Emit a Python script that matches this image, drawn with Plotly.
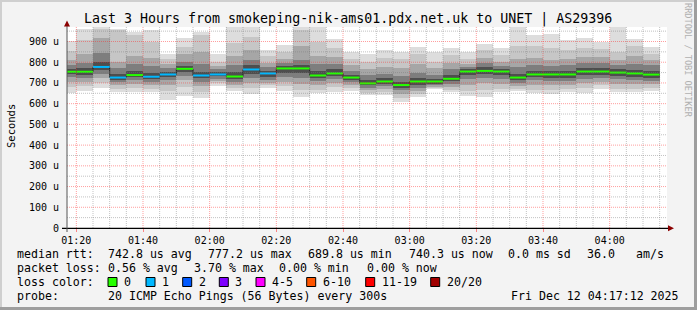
import plotly.graph_objects as go
import pandas as pd

DAY = "2025-12-12 "
RANGE_START = "01:17:12"
RANGE_END = "04:17:12"

# end time of each 5-minute step
bin_end = ["01:20", "01:25", "01:30", "01:35", "01:40", "01:45", "01:50", "01:55",
           "02:00", "02:05", "02:10", "02:15", "02:20", "02:25", "02:30", "02:35",
           "02:40", "02:45", "02:50", "02:55", "03:00", "03:05", "03:10", "03:15",
           "03:20", "03:25", "03:30", "03:35", "03:40", "03:45", "03:50", "03:55",
           "04:00", "04:05", "04:10", "04:15"]

# median rtt (microseconds)
median_rtt = [754, 754, 777.2, 726, 738, 730, 741, 768, 736, 741, 731, 765, 746, 770, 770, 736,
              746, 726, 698, 707, 689.8, 707, 707, 720, 755, 758, 755, 726, 741, 741, 741, 755,
              755, 750, 746, 740.3]

# lost pings per step (of 20)
loss_count = [0, 0, 1, 1, 0, 1, 1, 0, 1, 1, 0, 1, 1, 0, 0, 0, 0, 0, 0, 0, 0, 0, 0, 0,
              0, 0, 0, 0, 0, 0, 0, 0, 0, 0, 0, 0]

# smoke: sorted ping spread (microseconds), outer -> inner
ping_max = [902, 958, 975, 960, 946, 955, 838, 918, 946, 842, 975, 975, 858, 883, 975, 975,
            910, 850, 842, 858, 850, 874, 847, 871, 847, 890, 868, 975, 930, 934, 906, 918,
            898, 975, 910, 874]
ping_hi2 = [855, 905, 960, 955, 930, 900, 815, 875, 930, 800, 895, 920, 830, 850, 955, 900,
            870, 815, 800, 820, 815, 840, 800, 835, 815, 860, 835, 880, 880, 870, 860, 870,
            865, 850, 880, 840]
ping_hi3 = [810, 840, 915, 800, 830, 820, 790, 840, 850, 780, 830, 860, 795, 815, 880, 830,
            825, 785, 765, 775, 770, 790, 770, 795, 790, 820, 800, 815, 820, 810, 815, 825,
            825, 810, 830, 810]
ping_hi4 = [785, 795, 845, 770, 790, 780, 770, 800, 790, 765, 785, 810, 775, 795, 810, 790,
            790, 760, 740, 745, 735, 750, 740, 765, 775, 795, 780, 775, 785, 780, 785, 795,
            795, 785, 790, 785]
ping_hi5 = [768, 770, 800, 745, 760, 750, 755, 782, 755, 752, 755, 785, 760, 782, 785, 760,
            765, 740, 715, 722, 705, 722, 720, 738, 765, 775, 768, 745, 758, 760, 758, 770,
            772, 765, 762, 760]
ping_lo5 = [742, 740, 762, 716, 728, 720, 730, 752, 722, 732, 718, 745, 730, 750, 750, 725,
            735, 715, 688, 695, 678, 692, 695, 708, 740, 745, 740, 712, 728, 725, 725, 738,
            740, 735, 730, 725]
ping_lo4 = [728, 725, 742, 703, 712, 705, 715, 735, 705, 720, 705, 725, 715, 730, 725, 710,
            720, 705, 675, 685, 665, 678, 688, 695, 720, 725, 720, 700, 712, 710, 710, 720,
            725, 718, 712, 710]
ping_lo3 = [705, 705, 722, 688, 695, 690, 690, 715, 685, 710, 690, 700, 700, 705, 695, 690,
            700, 690, 665, 670, 648, 662, 682, 680, 690, 700, 695, 685, 692, 690, 690, 700,
            705, 695, 695, 695]
ping_lo2 = [680, 685, 700, 672, 675, 672, 660, 680, 655, 698, 675, 675, 690, 685, 665, 668,
            680, 675, 652, 655, 625, 645, 676, 665, 660, 665, 672, 672, 668, 668, 670, 675,
            688, 672, 672, 678]
ping_min = [650, 662, 678, 654, 656, 654, 619, 638, 626, 686, 662, 647, 678, 662, 634, 650,
            658, 660, 640, 643, 606, 630, 670, 654, 638, 634, 654, 659, 650, 647, 654, 650,
            670, 654, 654, 662]

y_tick_vals = [0, 100, 200, 300, 400, 500, 600, 700, 800, 900]
y_tick_text = ["0", "100 u", "200 u", "300 u", "400 u", "500 u", "600 u", "700 u", "800 u", "900 u"]
x_tick_times = ["01:20", "01:40", "02:00", "02:20", "02:40", "03:00", "03:20", "03:40", "04:00"]

loss_legend_labels = ["0", "1", "2", "3", "4-5", "6-10", "11-19", "20/20"]
loss_legend_colors = ["#26ff00", "#00b8ff", "#0059ff", "#7e00ff", "#ff00ff", "#ff5500", "#ff0000", "#a10000"]

title_text = "Last 3 Hours from smokeping-nik-ams01.pdx.net.uk to UNET | AS29396"
stats_rtt = [("median rtt:", 16), ("742.8 us avg", 107), ("777.2 us max", 207),
             ("689.8 us min", 306.5), ("740.3 us now", 408), ("0.0 ms sd", 506.5),
             ("36.0", 586), ("am/s", 635)]
stats_loss = [("packet loss:", 16), ("0.56 % avg", 107), ("3.70 % max", 192.5),
              ("0.00 % min", 277.5), ("0.00 % now", 366)]
probe_text = "20 ICMP Echo Pings (56 Bytes) every 300s"
stamp_text = "Fri Dec 12 04:17:12 2025"

# ---------------------------------------------------------------- layout geometry
FIG_W, FIG_H = 697, 310
L, T, W, H = 67, 27, 600, 201
FONT = "DejaVu Sans Mono"


def pxx(x):
    return (x - L) / W


def pyy(y):
    return (T + H - y) / H


def loss_class(n):
    if n <= 3:
        return n
    if n <= 5:
        return 4
    if n <= 10:
        return 5
    if n <= 19:
        return 6
    return 7


ends = pd.to_datetime([DAY + t for t in bin_end])
starts = ends - pd.Timedelta(minutes=5)
centers = ends - pd.Timedelta(seconds=150)

fig = go.Figure()

bands = [
    (ping_min, ping_max, "#dddddd"),
    (ping_lo2, ping_hi2, "#c6c6c6"),
    (ping_lo3, ping_hi3, "#a6a6a6"),
    (ping_lo4, ping_hi4, "#7e7e7e"),
    (ping_lo5, ping_hi5, "#4e4e4e"),
]
for lo, hi, col in bands:
    fig.add_trace(go.Bar(
        x=centers, y=[h - l for l, h in zip(lo, hi)], base=lo,
        width=300000, marker=dict(color=col, line=dict(width=0)),
        hoverinfo="skip", showlegend=False))

# dark step line joining medians
fig.add_trace(go.Scatter(
    x=list(starts) + [ends[-1]], y=median_rtt + [median_rtt[-1]],
    mode="lines", line=dict(color="#202020", width=1, shape="hv"),
    hoverinfo="skip", showlegend=False))

# coloured median segments by loss
for ci, col in enumerate(loss_legend_colors):
    xs, ys = [], []
    for s, e, m, n in zip(starts, ends, median_rtt, loss_count):
        if loss_class(n) == ci:
            xs += [s, e, None]
            ys += [m, m, None]
    if xs:
        fig.add_trace(go.Scatter(x=xs, y=ys, mode="lines",
                                 line=dict(color=col, width=2),
                                 hoverinfo="skip", showlegend=False))

shapes = []
# grid (drawn above the smoke like rrdtool)
minor_t = pd.date_range(DAY + "01:20", DAY + "04:15", freq="5min")
major_t = pd.to_datetime([DAY + t for t in x_tick_times])
major_set = set(major_t)
for t in minor_t:
    if t in major_set:
        continue
    shapes.append(dict(type="line", xref="x", yref="paper", x0=t, x1=t, y0=0, y1=1,
                       line=dict(color="rgba(120,120,120,0.45)", width=1, dash="1px,1px"),
                       layer="above"))
for t in major_t:
    shapes.append(dict(type="line", xref="x", yref="paper", x0=t, x1=t, y0=0, y1=1,
                       line=dict(color="rgba(255,40,40,0.45)", width=1, dash="1px,1px"),
                       layer="above"))
for v in range(50, 1000, 50):
    major = v % 100 == 0
    shapes.append(dict(type="line", xref="paper", yref="y", x0=0, x1=1, y0=v, y1=v,
                       line=dict(color="rgba(255,40,40,0.45)" if major else "rgba(120,120,120,0.45)",
                                 width=1, dash="1px,1px"),
                       layer="above"))

# axes lines and arrows
shapes.append(dict(type="line", xref="paper", yref="paper", x0=pxx(62), x1=pxx(669),
                   y0=pyy(228.3), y1=pyy(228.3), line=dict(color="#000000", width=1.3), layer="above"))
shapes.append(dict(type="line", xref="paper", yref="paper", x0=pxx(67), x1=pxx(67),
                   y0=pyy(232), y1=pyy(23), line=dict(color="#555555", width=1), layer="above"))
shapes.append(dict(type="path", xref="paper", yref="paper", layer="above",
                   path="M {} {} L {} {} L {} {} Z".format(pxx(64), pyy(26.5), pxx(70), pyy(26.5), pxx(67), pyy(20.5)),
                   fillcolor="#8b0000", line=dict(width=0)))
shapes.append(dict(type="path", xref="paper", yref="paper", layer="above",
                   path="M {} {} L {} {} L {} {} Z".format(pxx(668), pyy(225.3), pxx(668), pyy(231.3), pxx(674), pyy(228.3)),
                   fillcolor="#8b0000", line=dict(width=0)))

# outer frame
shapes.append(dict(type="line", xref="paper", yref="paper", x0=pxx(0), x1=pxx(697), y0=pyy(1), y1=pyy(1),
                   line=dict(color="#cfcfcf", width=2)))
shapes.append(dict(type="line", xref="paper", yref="paper", x0=pxx(1), x1=pxx(1), y0=pyy(0), y1=pyy(310),
                   line=dict(color="#cfcfcf", width=2)))
shapes.append(dict(type="line", xref="paper", yref="paper", x0=pxx(0), x1=pxx(697), y0=pyy(308.5), y1=pyy(308.5),
                   line=dict(color="#9e9e9e", width=3)))
shapes.append(dict(type="line", xref="paper", yref="paper", x0=pxx(695.5), x1=pxx(695.5), y0=pyy(0), y1=pyy(310),
                   line=dict(color="#9e9e9e", width=3)))

annotations = []


def text(s, x, y, size=11.6, xanchor="left", color="#000000", angle=0):
    annotations.append(dict(text=s, x=pxx(x), y=pyy(y), xref="paper", yref="paper",
                            xanchor=xanchor, yanchor="middle", showarrow=False,
                            textangle=angle, font=dict(family=FONT, size=size, color=color)))


text(title_text, 348, 19, size=13.3, xanchor="center")
text("Seconds", 11, 126, size=10.5, xanchor="center", angle=-90)
text("RRDTOOL / TOBI OETIKER", 688, 60, size=8.6, xanchor="center", color="#b0b0b0", angle=90)

row_y = [254.3, 268.3, 282.2, 296]
for s, x in stats_rtt:
    text(s.replace(" ", "&nbsp;"), x - 1, row_y[0])
for s, x in stats_loss:
    text(s.replace(" ", "&nbsp;"), x - 1, row_y[1])
text("loss&nbsp;color:", 15, row_y[2])
box_x = [108, 146, 182.7, 219.3, 256, 306.7, 365.7, 430.7]
for bx, lab, col in zip(box_x, loss_legend_labels, loss_legend_colors):
    shapes.append(dict(type="rect", xref="paper", yref="paper",
                       x0=pxx(bx), x1=pxx(bx + 9), y0=pyy(277.5), y1=pyy(286.5),
                       fillcolor=col, line=dict(color="#000000", width=1)))
    text(lab, bx + 14, row_y[2])
text("probe:", 15, row_y[3])
text(probe_text.replace(" ", "&nbsp;"), 106, row_y[3])
text(stamp_text.replace(" ", "&nbsp;"), 681, row_y[3], xanchor="right")

fig.update_layout(
    width=FIG_W, height=FIG_H,
    margin=dict(l=L, r=FIG_W - L - W, t=T, b=FIG_H - T - H, pad=0),
    paper_bgcolor="#f3f3f3", plot_bgcolor="#ffffff",
    barmode="overlay", bargap=0, showlegend=False,
    shapes=shapes, annotations=annotations,
    xaxis=dict(type="date", range=[DAY + RANGE_START, DAY + RANGE_END],
               tickvals=major_t, ticktext=x_tick_times,
               showgrid=False, zeroline=False, showline=False,
               ticks="outside", ticklen=3, tickcolor="rgba(255,60,60,0.6)",
               tickfont=dict(family=FONT, size=10, color="#000000"), fixedrange=True),
    yaxis=dict(range=[0, 970], tickvals=y_tick_vals, ticktext=y_tick_text,
               showgrid=False, zeroline=False, showline=False,
               ticks="outside", ticklen=5, tickcolor="rgba(0,0,0,0)",
               tickfont=dict(family=FONT, size=10, color="#000000"), fixedrange=True),
)

fig.write_html("out.html", config={"displayModeBar": False})
